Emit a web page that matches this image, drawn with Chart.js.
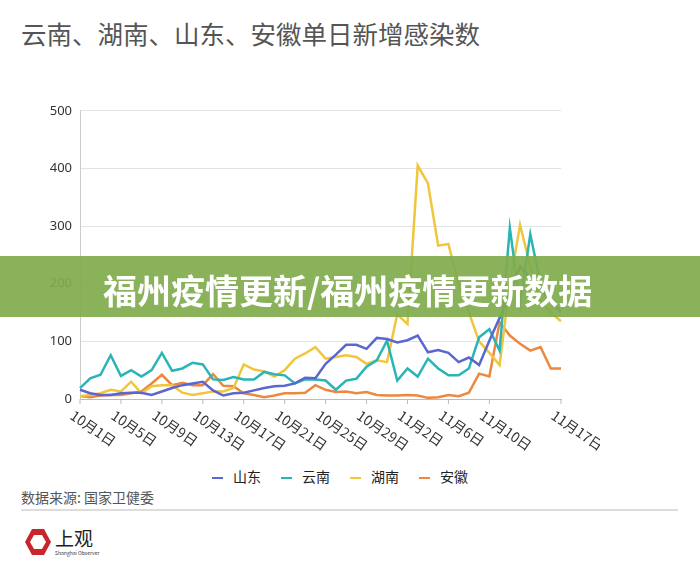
<!DOCTYPE html>
<html><head><meta charset="utf-8">
<script src="https://cdn.jsdelivr.net/npm/chart.js@4.4.0/dist/chart.umd.min.js"></script>
<style>
body{margin:0;width:700px;height:574px;background:#fff;position:relative;overflow:hidden;font-family:"Noto Sans CJK SC","Noto Sans",sans-serif;}
#title{position:absolute;left:21px;top:14px;font-size:25.5px;color:#555;white-space:nowrap;}
#wrap{position:absolute;left:0;top:95px;width:600px;height:370px;}
#legend{position:absolute;top:466px;left:0;width:680px;text-align:center;font-size:14px;color:#222;}
#legend span{margin:0 10px;}
#legend i{display:inline-block;width:11px;height:2px;vertical-align:middle;margin-right:10px;}
#src{position:absolute;left:21px;top:487px;font-size:14px;color:#555;}
#hr{position:absolute;left:21px;top:509px;width:657px;height:2px;background:#ddd;}
#banner{position:absolute;left:0;top:256px;width:700px;height:61px;background:rgba(128,172,78,0.93);}
#banner div{position:absolute;left:103px;top:9px;font-size:34px;font-weight:bold;color:#fff;white-space:nowrap;}
#logo{position:absolute;left:23px;top:527px;width:120px;height:36px;}
</style></head><body>
<div id="title">云南、湖南、山东、安徽单日新增感染数</div>
<div id="wrap"><canvas id="c"></canvas></div>
<div id="legend"></div>
<div id="src">数据来源: 国家卫健委</div>
<div id="hr"></div>
<div id="banner"><div>福州疫情更新/福州疫情更新数据</div></div>
<div id="logo">
<svg width="30" height="30" viewBox="0 0 30 30" style="position:absolute;left:0;top:0"><polygon points="9,2 21,2 28,15 21,28 9,28 2,15" fill="#c8262c"/><polygon points="11,8 19,8 23,15 19,22 11,22 7,15" fill="#fff"/></svg>
<span style="position:absolute;left:32px;top:-3px;font-size:19px;font-family:'Noto Sans CJK SC';color:#222;white-space:nowrap;">上观</span>
<span style="position:absolute;left:32px;top:22px;font-size:5px;color:#333;white-space:nowrap;">Shanghai Observer</span>
</div>
<script>
const categories=[];
for(let d=1;d<=31;d++)categories.push('10月'+d+'日');
for(let d=1;d<=17;d++)categories.push('11月'+d+'日');
const shownTicks=['10月1日','10月5日','10月9日','10月13日','10月17日','10月21日','10月25日','10月29日','11月2日','11月6日','11月10日','11月17日'];
const shandong=[16,10,7,7,10,11,11,7,13,19,24,27,30,15,6,10,11,15,19,22,23,27,37,36,61,77,94,94,87,106,104,98,102,110,81,85,80,64,72,59,101,141,181,230,210,190,170,150];
const yunnan=[19,36,42,76,40,50,39,50,80,49,53,63,60,34,33,38,34,34,47,43,41,27,34,34,32,16,32,35,56,67,101,32,53,39,70,53,41,41,53,107,121,84,297,164,286,200,170,151];
const hunan=[5,7,10,16,13,30,10,22,24,24,11,7,10,13,13,19,60,51,48,39,50,70,79,90,70,73,76,73,61,67,64,147,130,405,374,266,269,198,150,100,80,59,200,302,230,170,150,135];
const anhui=[5,3,6,7,7,10,13,27,42,24,28,24,24,43,23,22,10,7,3,6,10,10,11,24,16,12,13,10,12,7,6,6,7,6,2,3,7,5,11,44,39,133,110,96,84,90,53,53];
const names=['山东','云南','湖南','安徽'];
const colors=['#5a67d0','#29b5b8','#f0c63c','#ec8840'];
const series=[shandong,yunnan,hunan,anhui];
document.getElementById('legend').innerHTML=names.map((n,i)=>`<span><i style="background:${colors[i]}"></i>${n}</span>`).join('');
const xlab={id:'xlab',afterDraw(ch){const c=ch.ctx,s=ch.scales.x,b=ch.chartArea.bottom;c.save();c.font='14px "Noto Sans CJK SC"';c.fillStyle='#333';c.strokeStyle='#bbb';c.lineWidth=1;
categories.forEach((lab,i)=>{if(!shownTicks.includes(lab))return;const x=s.getPixelForValue(i);c.beginPath();c.moveTo(x,b);c.lineTo(x,b+5);c.stroke();c.save();c.translate(x-4,b+9);c.rotate(0.6);c.textAlign='left';c.textBaseline='top';c.fillText(lab,0,0);c.restore();});c.restore();}};
new Chart(document.getElementById('c'),{type:'line',
data:{labels:categories,datasets:series.map((d,i)=>({label:names[i],data:d,borderColor:colors[i],backgroundColor:colors[i],borderWidth:2.5,pointRadius:0,tension:0}))},
options:{responsive:true,maintainAspectRatio:false,animation:false,
layout:{padding:{top:12,right:39,left:0,bottom:0}},
plugins:{legend:{display:false},tooltip:{enabled:false}},
scales:{x:{grid:{display:false},border:{color:'#bbb'},ticks:{display:false},afterFit(s){s.height=66;}},
y:{min:0,max:500,ticks:{stepSize:100,color:'#333',font:{size:13,family:'Noto Sans'},padding:8},grid:{color:'#e3e3e3',drawTicks:false},border:{color:'#ccc'},afterFit(s){s.width=80;}}}},
plugins:[xlab]});
</script></body></html>
